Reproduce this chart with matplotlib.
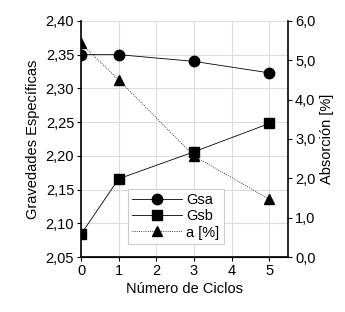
import matplotlib
matplotlib.use('Agg')
import matplotlib.pyplot as plt
from matplotlib.ticker import FuncFormatter

plt.rcParams['font.family'] = ['Liberation Sans', 'DejaVu Sans']

# Data
ciclos = [0, 1, 3, 5]
gsa = [2.350, 2.350, 2.340, 2.323]
gsb = [2.084, 2.166, 2.206, 2.248]
absorcion = [5.43, 4.50, 2.57, 1.47]

fig = plt.figure(figsize=(3.45, 3.12), dpi=100)
ax = fig.add_axes([0.235, 0.176, 0.600, 0.757])
ax2 = ax.twinx()

ax.plot(ciclos, gsa, color='black', lw=0.6, marker='o', ms=7.5, label='Gsa')
ax.plot(ciclos, gsb, color='black', lw=0.6, marker='s', ms=7.5, label='Gsb')
ax2.plot(ciclos, absorcion, color='black', lw=0.6, ls=':', marker='^', ms=7.5, label='a [%]')

ax.set_xlim(0, 5.5)
ax.set_ylim(2.05, 2.40)
ax2.set_ylim(0, 6)
ax.set_xticks([0, 1, 2, 3, 4, 5])
ax.set_yticks([2.05, 2.10, 2.15, 2.20, 2.25, 2.30, 2.35, 2.40])
ax2.set_yticks([0, 1, 2, 3, 4, 5, 6])
ax.yaxis.set_major_formatter(FuncFormatter(lambda v, p: f'{v:.2f}'.replace('.', ',')))
ax2.yaxis.set_major_formatter(FuncFormatter(lambda v, p: f'{v:.1f}'.replace('.', ',')))

ax.grid(True, color='#dcdcdc', lw=0.8)
ax.set_axisbelow(True)
for a in (ax, ax2):
    a.spines['top'].set_visible(False)
    a.tick_params(labelsize=10.5, length=3, width=0.8, direction='out', pad=2)
ax.spines['right'].set_visible(False)
ax2.spines['left'].set_visible(False)
ax2.spines['right'].set_linewidth(1.2)
ax.spines['left'].set_linewidth(1.2)
ax.spines['bottom'].set_linewidth(1.2)

ax.set_xlabel('Número de Ciclos', fontsize=10.5, labelpad=3)
ax.set_ylabel('Gravedades Específicas', fontsize=10.5, labelpad=4)
ax2.set_ylabel('Absorción [%]', fontsize=10.5, labelpad=3)

h1, l1 = ax.get_legend_handles_labels()
h2, l2 = ax2.get_legend_handles_labels()
leg = ax2.legend(h1 + h2, l1 + l2, loc='lower left', bbox_to_anchor=(0.19, 0.025),
                 fontsize=10.5, fancybox=False, edgecolor='#cccccc', framealpha=1,
                 handlelength=3.4, borderpad=0.3, labelspacing=0.15, handletextpad=0.3)
leg.get_frame().set_linewidth(0.8)

fig.savefig('out.png', dpi=100)
